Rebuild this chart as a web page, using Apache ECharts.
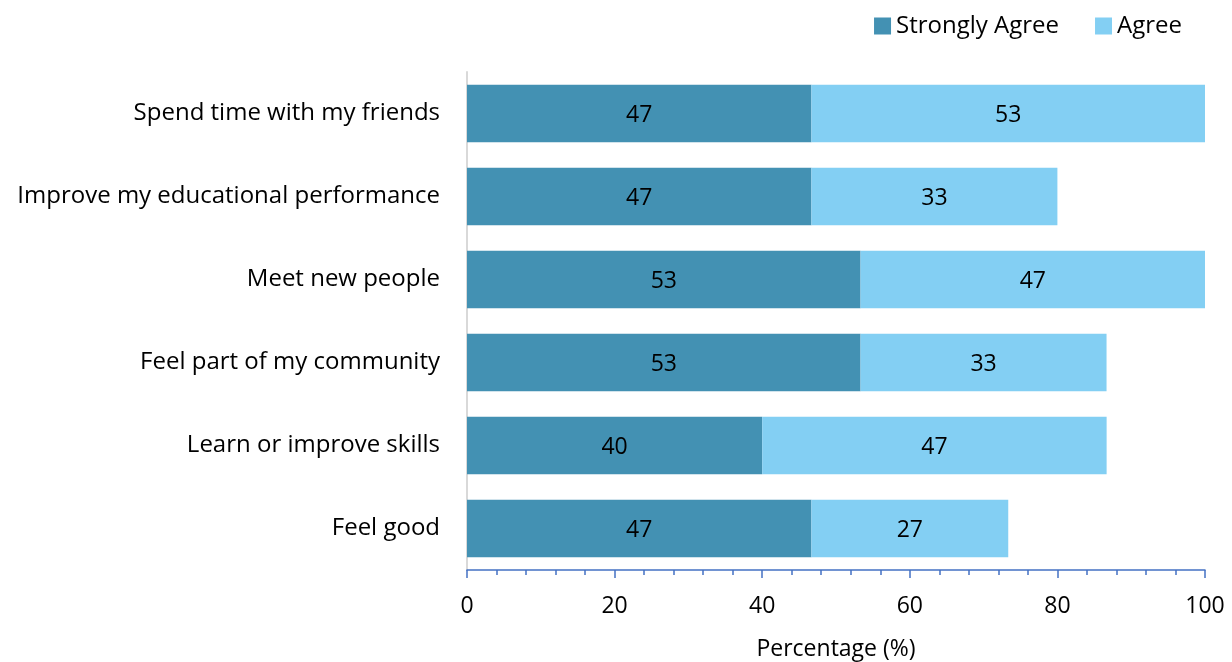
<!DOCTYPE html>
<html>
<head>
<meta charset="utf-8">
<script src="https://cdn.jsdelivr.net/npm/echarts@6/dist/echarts.min.js"></script>
<style>
  html, body { margin: 0; padding: 0; background: #fff; }
  #chart { width: 1232px; height: 662px; }
</style>
</head>
<body>
<div id="chart"></div>
<script>
// Reasons for taking part (share of respondents, %), listed bottom to top
const categories = [
  'Feel good',
  'Learn or improve skills',
  'Feel part of my community',
  'Meet new people',
  'Improve my educational performance',
  'Spend time with my friends'
];
const stronglyAgree = [46.67, 40.0, 53.33, 53.33, 46.67, 46.67];
const agree = [26.67, 46.67, 33.33, 46.67, 33.33, 53.33];
const xTicks = [0, 20, 40, 60, 80, 100];

const FONT = '"Open Sans", "Noto Sans", sans-serif';

const chart = echarts.init(document.getElementById('chart'));

const barLabel = {
  show: true,
  position: 'inside',
  color: '#000',
  fontSize: 23,
  fontFamily: FONT,
  offset: [0, 2],
  formatter: p => String(Math.round(p.value))
};

chart.setOption({
  animation: false,
  textStyle: { fontFamily: FONT },
  legend: {
    top: 9,
    right: 45,
    itemWidth: 17,
    itemHeight: 17,
    itemGap: 36,
    itemTextGap: 6,
    icon: 'rect',
    textStyle: { fontSize: 24, color: '#000', fontFamily: FONT },
    data: ['Strongly Agree', 'Agree']
  },
  grid: { left: 467, right: 27, top: 72, bottom: 92, containLabel: false, outerBoundsMode: 'none' },
  xAxis: {
    type: 'value',
    min: 0,
    max: 100,
    interval: 20,
    name: 'Percentage (%)',
    nameLocation: 'middle',
    nameGap: 68,
    nameTextStyle: { fontSize: 23, color: '#000', fontFamily: FONT },
    axisLine: { show: true, lineStyle: { color: '#4472C4', width: 1.5 } },
    axisTick: { show: true, inside: false, length: 8, lineStyle: { color: '#4472C4', width: 1.5 } },
    minorTick: { show: true, splitNumber: 5, length: 5, lineStyle: { color: '#4472C4', width: 1.5 } },
    splitLine: { show: false },
    axisLabel: {
      fontSize: 23, color: '#000', margin: 25, fontFamily: FONT,
      formatter: v => xTicks.includes(v) ? String(v) : ''
    }
  },
  yAxis: {
    type: 'category',
    data: categories,
    axisLine: { show: true, lineStyle: { color: '#d9d9d9', width: 2 } },
    axisTick: { show: false },
    axisLabel: { fontSize: 24, color: '#000', margin: 27, fontFamily: FONT, padding: [6, 0, 0, 0] }
  },
  series: [
    {
      name: 'Strongly Agree',
      type: 'bar',
      stack: 'total',
      data: stronglyAgree,
      barWidth: '69%',
      itemStyle: { color: '#4391B3' },
      label: barLabel
    },
    {
      name: 'Agree',
      type: 'bar',
      stack: 'total',
      data: agree,
      barWidth: '69%',
      itemStyle: { color: '#83CFF3' },
      label: barLabel
    }
  ]
});
</script>
</body>
</html>
